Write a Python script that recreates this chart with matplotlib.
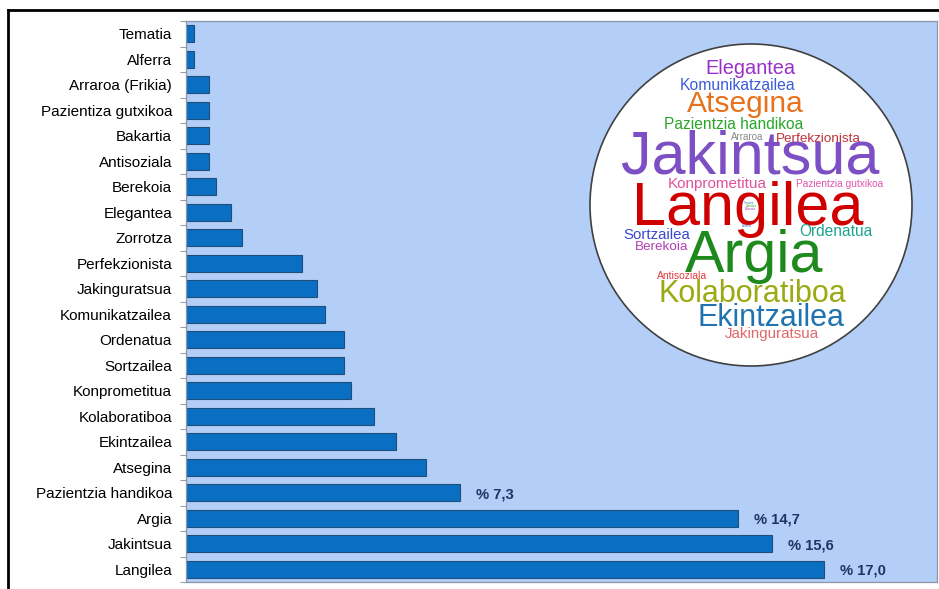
import matplotlib.pyplot as plt
from matplotlib.patches import Circle
from matplotlib.lines import Line2D

plt.rcParams['font.family'] = ['Liberation Sans', 'DejaVu Sans']

# percentages per trait (bottom to top)
traits = ['Langilea', 'Jakintsua', 'Argia', 'Pazientzia handikoa', 'Atsegina',
          'Ekintzailea', 'Kolaboratiboa', 'Konprometitua', 'Sortzailea', 'Ordenatua',
          'Komunikatzailea', 'Jakinguratsua', 'Perfekzionista', 'Zorrotza', 'Elegantea',
          'Berekoia', 'Antisoziala', 'Bakartia', 'Pazientiza gutxikoa',
          'Arraroa (Frikia)', 'Alferra', 'Tematia']
percent = [17.0, 15.6, 14.7, 7.3, 6.4, 5.6, 5.0, 4.4, 4.2, 4.2, 3.7, 3.5, 3.1,
           1.5, 1.2, 0.8, 0.6, 0.6, 0.6, 0.6, 0.2, 0.2]
labelled = 4  # only the top bars carry a value label

# word cloud: word, x, baseline y (px inside the circle box), size, colour
cloud_words = ['Elegantea', 'Komunikatzailea', 'Atsegina', 'Pazientzia handikoa',
               'Arraroa', 'Perfekzionista', 'Jakintsua', 'Konprometitua',
               'Pazientzia gutxikoa', 'Langilea', 'Sortzailea', 'Ordenatua',
               'Berekoia', 'Argia', 'Antisoziala', 'Kolaboratiboa', 'Ekintzailea',
               'Jakinguratsua', 'Tematia', 'Zorrotza', 'Bakartia', 'Alferra']
cloud_x = [166, 153.5, 161, 150, 163, 234, 166, 133, 256, 164, 73, 252,
           78, 170, 98, 168, 187, 188, 165, 167, 166, 162]
cloud_y = [35, 51, 73, 90, 101, 103, 134, 149, 148, 186, 200, 197,
           211, 233, 240, 263, 287, 299, 165, 168, 171, 188]
cloud_size = [14.4, 11.3, 21.6, 11.2, 7, 9.7, 44, 11, 7.3, 44, 10.8, 11.2,
              9.7, 42.7, 7.5, 22, 22, 10.9, 2.2, 2.2, 2.2, 2.2]
cloud_color = ['#9B30C8', '#3B5BDB', '#E8711C', '#2AA52A', '#8A8A8A', '#C0303A',
               '#7D4FC4', '#E0509B', '#E055B0', '#D00000', '#3848D0', '#1FA58F',
               '#B23FB5', '#1E8A1E', '#E03A3A', '#9AAA12', '#1F73B0', '#E06868',
               '#3A7FB0', '#2AA52A', '#B23FB5', '#3B5BDB']

W, H = 939, 589
fig = plt.figure(figsize=(W / 100, H / 100), dpi=100)

ax = fig.add_axes([186 / W, 1 - 582 / H, (937 - 186) / W, (582 - 21) / H])
ax.set_facecolor('#B3CEF7')
ypos = list(range(len(traits)))
ax.barh(ypos, percent, height=0.68, color='#0A6FC2', edgecolor='#1F4E79', linewidth=0.8)
ax.set_xlim(0, 20)
ax.set_ylim(-0.5, len(traits) - 0.5)
ax.set_yticks(ypos)
ax.set_yticklabels(traits, fontsize=11)
ax.set_yticks([i - 0.5 for i in range(len(traits) + 1)], minor=True)
ax.tick_params(axis='y', which='major', length=0, pad=10)
ax.tick_params(axis='y', which='minor', length=4.5, color='#A0A0A0', width=0.8)
ax.set_xticks([])
for s in ax.spines.values():
    s.set_color('#8C96A6')
    s.set_linewidth(0.9)

for i in range(labelled):
    txt = '% ' + ('%.1f' % percent[i]).replace('.', ',')
    ax.annotate(txt, (percent[i], ypos[i]), xytext=(11.5, -1), textcoords='offset points',
                va='center', ha='left', fontsize=10.6, fontweight='bold', color='#1C3566')

# word cloud inset
bx, by, bs = 584, 39, 334
cax = fig.add_axes([bx / W, 1 - (by + bs) / H, bs / W, bs / H])
cax.set_xlim(0, bs)
cax.set_ylim(bs, 0)
cax.axis('off')
cax.add_patch(Circle((167, 166), 161, facecolor='white', edgecolor='#404040', linewidth=1.2))
for w, x, y, s, c in zip(cloud_words, cloud_x, cloud_y, cloud_size, cloud_color):
    cax.text(x, y, w, fontsize=s, color=c, ha='center', va='baseline')

# outer frame lines
fig.add_artist(Line2D([8 / W, 8 / W], [0, 1 - 10 / H], color='black', linewidth=2))
fig.add_artist(Line2D([8 / W, 1], [1 - 10 / H, 1 - 10 / H], color='black', linewidth=2))

fig.savefig('out.png', dpi=100)
